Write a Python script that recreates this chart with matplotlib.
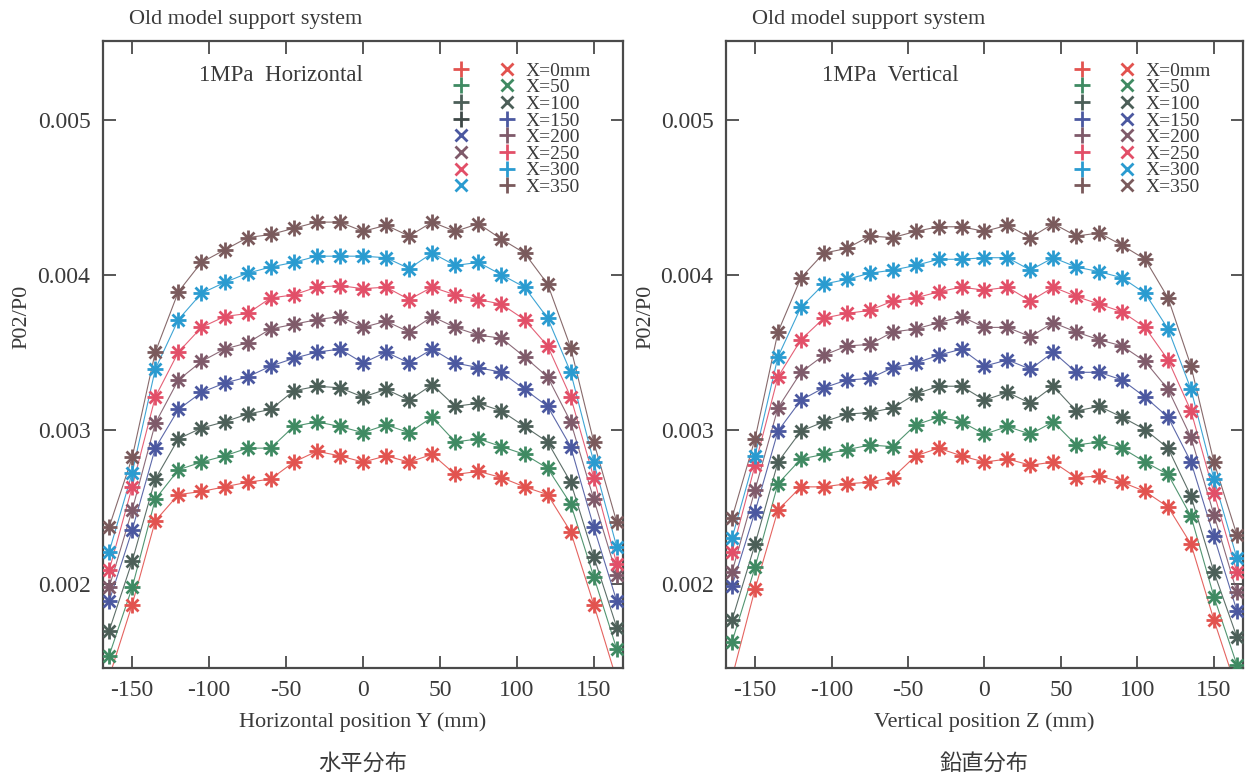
import numpy as np
import matplotlib
matplotlib.use('Agg')
import matplotlib.pyplot as plt
from matplotlib.lines import Line2D
from matplotlib.legend_handler import HandlerTuple

plt.rcParams['font.family'] = ['Liberation Serif', 'Noto Sans CJK SC']
plt.rcParams['axes.unicode_minus'] = False

# positions (mm)
pos = [-165, -150, -135, -120, -105, -90, -75, -60, -45, -30, -15, 0,
       15, 30, 45, 60, 75, 90, 105, 120, 135, 150, 165]

stations = ['X=0mm', 'X=50', 'X=100', 'X=150', 'X=200', 'X=250', 'X=300', 'X=350']

# horizontal distribution (left panel)
h_0 = [0.00140, 0.00187, 0.00241, 0.00258, 0.00260, 0.00263, 0.00266, 0.00268, 0.00279, 0.00286, 0.00283, 0.00279,
       0.00283, 0.00279, 0.00284, 0.00271, 0.00273, 0.00269, 0.00263, 0.00258, 0.00234, 0.00187, 0.00138]
h_50 = [0.00154, 0.00198, 0.00255, 0.00274, 0.00279, 0.00283, 0.00288, 0.00288, 0.00302, 0.00305, 0.00302, 0.00298,
        0.00303, 0.00298, 0.00308, 0.00292, 0.00294, 0.00289, 0.00284, 0.00275, 0.00252, 0.00205, 0.00158]
h_100 = [0.00170, 0.00215, 0.00268, 0.00294, 0.00301, 0.00305, 0.00310, 0.00313, 0.00325, 0.00328, 0.00327, 0.00321,
         0.00326, 0.00319, 0.00329, 0.00315, 0.00317, 0.00312, 0.00302, 0.00292, 0.00266, 0.00218, 0.00172]
h_150 = [0.00189, 0.00235, 0.00288, 0.00313, 0.00324, 0.00330, 0.00334, 0.00341, 0.00346, 0.00350, 0.00352, 0.00343,
         0.00350, 0.00343, 0.00352, 0.00343, 0.00340, 0.00337, 0.00326, 0.00315, 0.00289, 0.00237, 0.00189]
h_200 = [0.00198, 0.00248, 0.00304, 0.00332, 0.00344, 0.00352, 0.00356, 0.00365, 0.00368, 0.00371, 0.00373, 0.00366,
         0.00370, 0.00363, 0.00373, 0.00366, 0.00361, 0.00359, 0.00347, 0.00334, 0.00305, 0.00255, 0.00206]
h_250 = [0.00209, 0.00263, 0.00321, 0.00350, 0.00366, 0.00373, 0.00375, 0.00385, 0.00387, 0.00392, 0.00393, 0.00391,
         0.00392, 0.00384, 0.00392, 0.00387, 0.00384, 0.00381, 0.00371, 0.00354, 0.00321, 0.00269, 0.00213]
h_300 = [0.00221, 0.00272, 0.00339, 0.00371, 0.00388, 0.00395, 0.00401, 0.00405, 0.00408, 0.00412, 0.00412, 0.00412,
         0.00411, 0.00404, 0.00414, 0.00406, 0.00408, 0.00400, 0.00392, 0.00372, 0.00337, 0.00279, 0.00224]
h_350 = [0.00237, 0.00282, 0.00350, 0.00389, 0.00408, 0.00416, 0.00424, 0.00426, 0.00430, 0.00434, 0.00434, 0.00428,
         0.00432, 0.00425, 0.00434, 0.00428, 0.00433, 0.00423, 0.00414, 0.00394, 0.00353, 0.00292, 0.00240]

# vertical distribution (right panel)
v_0 = [0.00140, 0.00197, 0.00248, 0.00263, 0.00263, 0.00265, 0.00266, 0.00269, 0.00283, 0.00288, 0.00283, 0.00279,
       0.00281, 0.00277, 0.00279, 0.00269, 0.00270, 0.00266, 0.00260, 0.00250, 0.00226, 0.00177, 0.00132]
v_50 = [0.00163, 0.00211, 0.00265, 0.00281, 0.00284, 0.00287, 0.00290, 0.00289, 0.00303, 0.00308, 0.00305, 0.00297,
        0.00302, 0.00297, 0.00305, 0.00290, 0.00292, 0.00288, 0.00279, 0.00271, 0.00244, 0.00192, 0.00148]
v_100 = [0.00177, 0.00226, 0.00279, 0.00299, 0.00305, 0.00310, 0.00311, 0.00314, 0.00323, 0.00328, 0.00328, 0.00319,
         0.00324, 0.00317, 0.00328, 0.00312, 0.00315, 0.00308, 0.00300, 0.00288, 0.00257, 0.00208, 0.00166]
v_150 = [0.00199, 0.00247, 0.00299, 0.00319, 0.00327, 0.00332, 0.00333, 0.00340, 0.00343, 0.00348, 0.00352, 0.00341,
         0.00345, 0.00339, 0.00350, 0.00337, 0.00337, 0.00332, 0.00321, 0.00308, 0.00279, 0.00231, 0.00183]
v_200 = [0.00208, 0.00261, 0.00314, 0.00337, 0.00348, 0.00354, 0.00355, 0.00363, 0.00365, 0.00369, 0.00373, 0.00366,
         0.00366, 0.00360, 0.00369, 0.00363, 0.00358, 0.00354, 0.00344, 0.00326, 0.00295, 0.00245, 0.00195]
v_250 = [0.00221, 0.00277, 0.00334, 0.00358, 0.00372, 0.00375, 0.00377, 0.00383, 0.00385, 0.00389, 0.00392, 0.00390,
         0.00392, 0.00383, 0.00392, 0.00386, 0.00381, 0.00376, 0.00366, 0.00345, 0.00312, 0.00259, 0.00208]
v_300 = [0.00230, 0.00283, 0.00347, 0.00379, 0.00394, 0.00397, 0.00401, 0.00403, 0.00406, 0.00410, 0.00410, 0.00411,
         0.00411, 0.00403, 0.00411, 0.00405, 0.00402, 0.00398, 0.00388, 0.00365, 0.00326, 0.00268, 0.00217]
v_350 = [0.00243, 0.00294, 0.00363, 0.00398, 0.00414, 0.00417, 0.00425, 0.00424, 0.00428, 0.00431, 0.00431, 0.00428,
         0.00432, 0.00424, 0.00433, 0.00425, 0.00427, 0.00419, 0.00410, 0.00385, 0.00341, 0.00279, 0.00232]

colors = ['#e2534f', '#3f8a62', '#4c5f58', '#4b58a0', '#7f5a6a', '#e24f68', '#2a9bd0', '#7a5a5c']

horiz = [h_0, h_50, h_100, h_150, h_200, h_250, h_300, h_350]
vert = [v_0, v_50, v_100, v_150, v_200, v_250, v_300, v_350]

fig = plt.figure(figsize=(12.45, 7.79), dpi=100)
ax1 = fig.add_axes([0.0827, 0.1425, 0.4177, 0.8049])
ax2 = fig.add_axes([0.5831, 0.1425, 0.4153, 0.8049])

spine_c = '#4a4a4a'
text_c = '#3a3a3a'


def draw_panel(ax, series, title):
    for vals, c in zip(series, colors):
        ax.plot(pos, vals, color=c, lw=0.8, alpha=0.9, zorder=2)
        ax.plot(pos, vals, ls='none', marker='+', ms=11, mew=2.0, color=c, zorder=3)
        ax.plot(pos, vals, ls='none', marker='x', ms=8, mew=2.0, color=c, zorder=3)
    ax.set_xlim(-169, 169)
    ax.set_ylim(0.00146, 0.00551)
    ax.set_xticks([-150, -100, -50, 0, 50, 100, 150])
    ax.set_yticks([0.002, 0.003, 0.004, 0.005])
    ax.set_yticklabels(['0.002', '0.003', '0.004', '0.005'])
    ax.tick_params(direction='in', length=9, width=1.3, top=True, right=True,
                   labelsize=17, colors=spine_c, labelcolor=text_c, pad=9)
    for s in ax.spines.values():
        s.set_color(spine_c)
        s.set_linewidth(1.6)
    ax.set_ylabel('P02/P0', fontsize=16, color=text_c)
    ax.yaxis.set_label_coords(-0.137, 0.56)
    ax.text(0.185, 0.945, title, transform=ax.transAxes, fontsize=16.5,
            color=text_c, va='center')
    ax.text(0.05, 1.035, 'Old model support system', transform=ax.transAxes,
            fontsize=16, color=text_c, va='center')


draw_panel(ax1, horiz, '1MPa  Horizontal')
draw_panel(ax2, vert, '1MPa  Vertical')

ax1.set_xlabel('Horizontal position Y (mm)', fontsize=16, color=text_c, labelpad=8)
ax2.set_xlabel('Vertical position Z (mm)', fontsize=16, color=text_c, labelpad=8)


def mk(m, c):
    if m == '+':
        return Line2D([], [], ls='none', marker='+', ms=11, mew=2.0, color=c)
    return Line2D([], [], ls='none', marker='x', ms=8, mew=2.0, color=c)


# left legend has mixed marker pairing as in the original
left_pairs = [(('+', colors[0]), ('x', colors[0])),
              (('+', colors[1]), ('x', colors[1])),
              (('+', colors[2]), ('x', colors[2])),
              (('+', '#3d4846'), ('+', colors[3])),
              (('x', colors[3]), ('+', colors[4])),
              (('x', colors[4]), ('+', colors[5])),
              (('x', colors[5]), ('+', colors[6])),
              (('x', colors[6]), ('+', colors[7]))]
left_handles = [(mk(*a), mk(*b)) for a, b in left_pairs]
right_handles = [(mk('+', c), mk('x', c)) for c in colors]

for ax, handles, anchor in [(ax1, left_handles, (0.96, 0.985)), (ax2, right_handles, (0.96, 0.985))]:
    ax.legend(handles, stations, handler_map={tuple: HandlerTuple(ndivide=None, pad=1.3)},
              loc='upper right', bbox_to_anchor=anchor, frameon=False, fontsize=14,
              handlelength=3.4, handletextpad=0.4, labelspacing=-0.05,
              borderaxespad=0.2, labelcolor=text_c)

fig.text(0.2915, 0.012, '水平分布', fontsize=16, color=text_c, ha='center',
         family=['Noto Sans CJK SC'])
fig.text(0.7907, 0.012, '鉛直分布', fontsize=16, color=text_c, ha='center',
         family=['Noto Sans CJK JP'])

fig.savefig('out.png', dpi=100, facecolor='white')
